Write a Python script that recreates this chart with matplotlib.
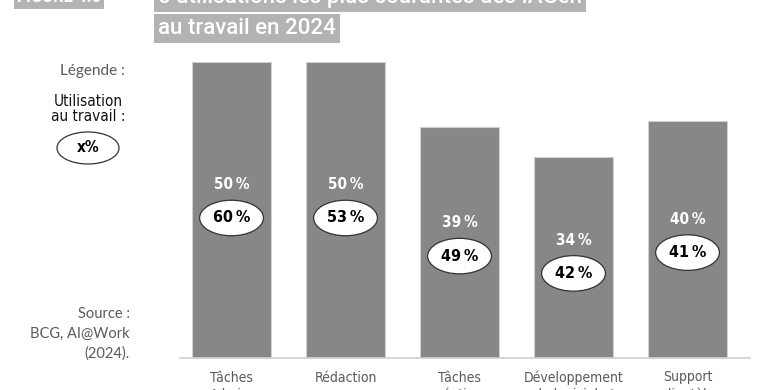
import matplotlib.pyplot as plt
from matplotlib.patches import Ellipse

# données
categories = ["Tâches\nAdmin.", "Rédaction", "Tâches\ncréatives",
              "Développement\nde logiciels /", "Support\nclientèle"]
usage_global = [50, 50, 39, 34, 40]     # chiffre blanc, hauteur des barres
usage_travail = [60, 53, 49, 42, 41]    # chiffre dans l'ellipse

BAR = "#878787"
GREY_TXT = "#5a5a5a"
COND = dict(family="DejaVu Sans", stretch="condensed")

fig = plt.figure(figsize=(7.6, 3.9), dpi=100)
ax = fig.add_axes([180 / 760, 32 / 390, 570 / 760, 296 / 390])

x = range(len(categories))
ax.bar(x, usage_global, width=0.693, color=BAR, edgecolor="#cfcfcf", linewidth=0.8, zorder=2)
ax.set_xlim(-0.452, 4.548)
ax.set_ylim(0, 50)

for i, (g, t) in enumerate(zip(usage_global, usage_travail)):
    ylab = g * 0.585
    ax.text(i, ylab, f"{g}\u2009%", color="white", ha="center", va="center",
            fontsize=11, fontweight="bold", **COND)
    ye = ylab - 5.6
    ax.add_patch(Ellipse((i, ye), 0.56, 6.0, facecolor="white", edgecolor="#333333",
                         linewidth=0.9, zorder=3))
    ax.text(i, ye, f"{t}\u2009%", color="black", ha="center", va="center",
            fontsize=11.5, fontweight="bold", zorder=4, **COND)

for s in ["top", "right", "left"]:
    ax.spines[s].set_visible(False)
ax.spines["bottom"].set_color("#d0d0d0")
ax.spines["bottom"].set_linewidth(1.2)
ax.set_yticks([])
ax.set_xticks(list(x))
ax.set_xticklabels(categories, color=GREY_TXT, fontsize=10, linespacing=1.3, **COND)
ax.tick_params(axis="x", length=0, pad=9)

# titre (coupé en haut comme sur l'original)
box = dict(boxstyle="square,pad=0.18", facecolor="#b3b3b3", edgecolor="none")
fig.text(158 / 760, 1 + 3 / 390, "5 utilisations les plus courantes des IAGen", color="white",
         fontsize=16, family="Roboto", fontweight="medium", va="center", bbox=box)
fig.text(158 / 760, 1 - 28 / 390, "au travail en 2024", color="white",
         fontsize=16, family="Roboto", fontweight="medium", va="center", bbox=box)
fig.text(17 / 760, 1 + 2 / 390, "FIGURE 4.6", color="white", fontsize=12,
         family="Roboto", fontweight="bold", va="center", bbox=box)

# légende à gauche
fig.text(125 / 760, 1 - 71 / 390, "Légende :", color=GREY_TXT, fontsize=11,
         family="Lato", ha="right", va="center")
fig.text(88 / 760, 1 - 109 / 390, "Utilisation\nau travail :", color="#111111", fontsize=11,
         ha="center", va="center", linespacing=1.0, **COND)
fig.patches.append(Ellipse((88 / 760, 1 - 148 / 390), 62 / 760, 32 / 390,
                           transform=fig.transFigure, facecolor="white",
                           edgecolor="#333333", linewidth=0.9))
fig.text(88 / 760, 1 - 148 / 390, "x%", color="black", fontsize=11, fontweight="bold",
         ha="center", va="center", **COND)

fig.text(130 / 760, 1 - 334 / 390, "Source :\nBCG, AI@Work\n(2024).", color=GREY_TXT,
         fontsize=10.5, family="Lato", ha="right", va="center", linespacing=1.5)

fig.savefig("out.png", dpi=100)
